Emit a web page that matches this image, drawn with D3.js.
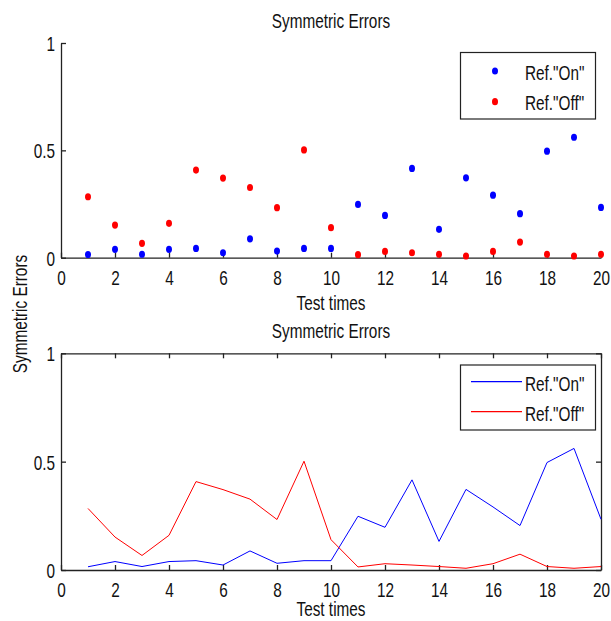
<!DOCTYPE html>
<html>
<head>
<meta charset="utf-8">
<script src="https://cdn.jsdelivr.net/npm/d3@7"></script>
<style>
  html, body { margin: 0; padding: 0; background: #fff; }
  svg { display: block; }
  text { font-family: "Liberation Sans", Arial, Helvetica, sans-serif; fill: #111; }
</style>
</head>
<body>
<svg id="chart" width="611" height="621"></svg>
<script>
// ---- data ----
const testTimes = [1,2,3,4,5,6,7,8,9,10,11,12,13,14,15,16,17,18,19,20];
const refOn  = [0.015,0.039,0.016,0.039,0.043,0.023,0.088,0.031,0.043,0.043,
                0.248,0.197,0.416,0.132,0.372,0.291,0.205,0.496,0.561,0.234];
const refOff = [0.284,0.152,0.067,0.160,0.408,0.371,0.327,0.233,0.502,0.140,
                0.014,0.029,0.023,0.016,0.008,0.029,0.073,0.016,0.008,0.016];
const seriesNames = ['Ref."On"', 'Ref."Off"'];
const seriesColors = ["#0000ff", "#ff0000"];
const xTicks = [0,2,4,6,8,10,12,14,16,18,20];
const yTicks = [0, 0.5, 1];
const chartTitle = "Symmetric Errors";
const xLabel = "Test times";
const yLabel = "Symmetric Errors";

// ---- layout ----
const svg = d3.select("#chart");
const FS = 21, SX = 0.73;
const x = d3.scaleLinear().domain([0, 20]).range([61, 601]);
const yTop = d3.scaleLinear().domain([0, 1]).range([257.7, 43]);
const yBot = d3.scaleLinear().domain([0, 1]).range([570, 353.3]);

function label(txt, px, py, anchor, rot) {
  return svg.append("text")
    .attr("transform", `translate(${px},${py}) rotate(${rot||0}) scale(${SX},1)`)
    .attr("text-anchor", anchor || "middle")
    .style("font-size", FS + "px")
    .text(txt);
}

function styleAxis(g, showText, orient) {
  g.selectAll("path.domain").attr("stroke", "#222").attr("stroke-width", 1.3);
  g.selectAll(".tick line").attr("stroke", "#222").attr("stroke-width", 1.3);
  if (!showText) { g.selectAll(".tick text").remove(); return; }
  g.selectAll(".tick text")
    .style("font-size", FS + "px")
    .style("font-family", '"Liberation Sans", Arial, sans-serif')
    .attr("fill", "#111");
  if (orient === "bottom") {
    g.selectAll(".tick text").attr("y", 12).attr("dy", "0.72em")
      .attr("transform", `scale(${SX},1)`);
  } else {
    g.selectAll(".tick text").attr("x", -6 / SX).attr("dy", "0.36em")
      .attr("transform", `scale(${SX},1)`);
  }
}

const fmt = d => String(d);

// ================= TOP PANEL (scatter) =================
const y0 = yTop.range()[0];
const gxT = svg.append("g").attr("transform", `translate(0,${y0})`)
  .call(d3.axisBottom(x).tickValues(xTicks).tickFormat(fmt).tickSizeInner(-5).tickSizeOuter(0));
styleAxis(gxT, true, "bottom");
const gyT = svg.append("g").attr("transform", `translate(${x(0)},0)`)
  .call(d3.axisLeft(yTop).tickValues(yTicks).tickFormat(fmt).tickSizeInner(-5).tickSizeOuter(0));
styleAxis(gyT, true, "left");

const topSeries = [refOn, refOff];
topSeries.forEach((vals, si) => {
  svg.append("g").selectAll("ellipse")
    .data(vals)
    .join("ellipse")
    .attr("cx", (d, i) => x(testTimes[i]))
    .attr("cy", d => yTop(d))
    .attr("rx", 3)
    .attr("ry", 3.6)
    .attr("fill", seriesColors[si]);
});

label(chartTitle, 331, 28, "middle");
label(xLabel, 331, 310, "middle");

// top legend
svg.append("rect").attr("x", 460.5).attr("y", 52.5).attr("width", 135).attr("height", 66.5)
  .attr("fill", "#fff").attr("stroke", "#222").attr("stroke-width", 1.2);
const legRowsTop = [71, 101.7];
seriesNames.forEach((nm, i) => {
  svg.append("ellipse").attr("cx", 495).attr("cy", legRowsTop[i]).attr("rx", 3).attr("ry", 3.6)
    .attr("fill", seriesColors[i]);
  label(nm, 525, legRowsTop[i] + 8.5, "start");
});

// ================= BOTTOM PANEL (lines) =================
const b0 = yBot.range()[0], b1 = yBot.range()[1];
const gxB = svg.append("g").attr("transform", `translate(0,${b0})`)
  .call(d3.axisBottom(x).tickValues(xTicks).tickFormat(fmt).tickSizeInner(-5).tickSizeOuter(0));
styleAxis(gxB, true, "bottom");
const gxB2 = svg.append("g").attr("transform", `translate(0,${b1})`)
  .call(d3.axisTop(x).tickValues(xTicks).tickSizeInner(-5).tickSizeOuter(0));
styleAxis(gxB2, false);
const gyB = svg.append("g").attr("transform", `translate(${x(0)},0)`)
  .call(d3.axisLeft(yBot).tickValues(yTicks).tickFormat(fmt).tickSizeInner(-5).tickSizeOuter(0));
styleAxis(gyB, true, "left");
const gyB2 = svg.append("g").attr("transform", `translate(${x(20)},0)`)
  .call(d3.axisRight(yBot).tickValues(yTicks).tickSizeInner(-5).tickSizeOuter(0));
styleAxis(gyB2, false);

const line = d3.line().x((d, i) => x(testTimes[i])).y(d => yBot(d));
topSeries.forEach((vals, si) => {
  svg.append("path").datum(vals)
    .attr("d", line)
    .attr("fill", "none")
    .attr("stroke", seriesColors[si])
    .attr("stroke-width", 1);
});

label(chartTitle, 331, 338, "middle");
label(xLabel, 331, 615.5, "middle");

// bottom legend
svg.append("rect").attr("x", 460.5).attr("y", 365).attr("width", 135).attr("height", 65)
  .attr("fill", "#fff").attr("stroke", "#222").attr("stroke-width", 1.2);
const legRowsBot = [381.7, 411.7];
seriesNames.forEach((nm, i) => {
  svg.append("line").attr("x1", 471).attr("x2", 522)
    .attr("y1", legRowsBot[i]).attr("y2", legRowsBot[i])
    .attr("stroke", seriesColors[i]).attr("stroke-width", 1.2);
  label(nm, 525, legRowsBot[i] + 9, "start");
});

// shared y label
label(yLabel, 26.5, 314, "middle", -90);
</script>
</body>
</html>
